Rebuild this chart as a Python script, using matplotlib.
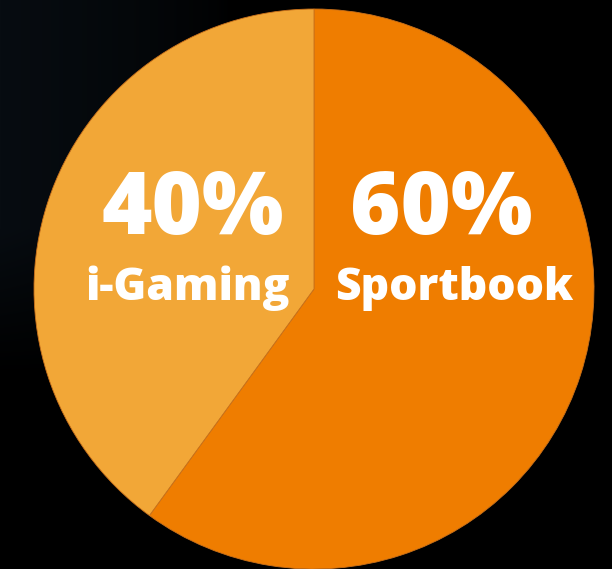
import numpy as np
import matplotlib
matplotlib.use("Agg")
import matplotlib.pyplot as plt

# Revenue split by product line
segments = ["Sportbook", "i-Gaming"]
shares = [60, 40]
colors = ["#EF7D00", "#F2A737"]

W, H = 612, 569
fig = plt.figure(figsize=(W / 100, H / 100), dpi=100)
fig.patch.set_facecolor("#000000")
ax = fig.add_axes([0, 0, 1, 1])
ax.set_xlim(0, W)
ax.set_ylim(0, H)
ax.set_aspect("equal")
ax.axis("off")

# faint dark-blue haze in the upper-left corner of the backdrop
yy, xx = np.mgrid[0:H, 0:W]
haze = np.clip(1 - xx / 230.0, 0, 1) ** 0.6 * np.clip((yy - 190) / 150.0, 0, 1)
bg = np.zeros((H, W, 4))
bg[..., 0] = 0.03
bg[..., 1] = 0.05
bg[..., 2] = 0.07
bg[..., 3] = haze
ax.imshow(bg, extent=(0, W, 0, H), origin="lower", zorder=0, interpolation="bilinear")

cx, cy, r = 314, 280, 280
wedges, _ = ax.pie(
    shares, colors=colors, startangle=90, counterclock=False,
    center=(cx, cy), radius=r, frame=True,
    wedgeprops=dict(edgecolor="#C9701A", linewidth=0.6),
)
ax.set_xlim(0, W)
ax.set_ylim(0, H)
ax.axis("off")

font = ["Open Sans", "DejaVu Sans"]
label_pos = {"Sportbook": (441, 358, 454, 281), "i-Gaming": (193, 358, 188, 281)}
for name, val in zip(segments, shares):
    px, py, lx, ly = label_pos[name]
    ax.text(px, py, f"{val}%", ha="center", va="center", color="white",
            fontsize=62, fontweight="heavy", family=font, zorder=5)
    ax.text(lx, ly, name, ha="center", va="center", color="white",
            fontsize=32, fontweight="heavy", family=font, zorder=5)

fig.savefig("out.png", dpi=100, facecolor=fig.get_facecolor())
